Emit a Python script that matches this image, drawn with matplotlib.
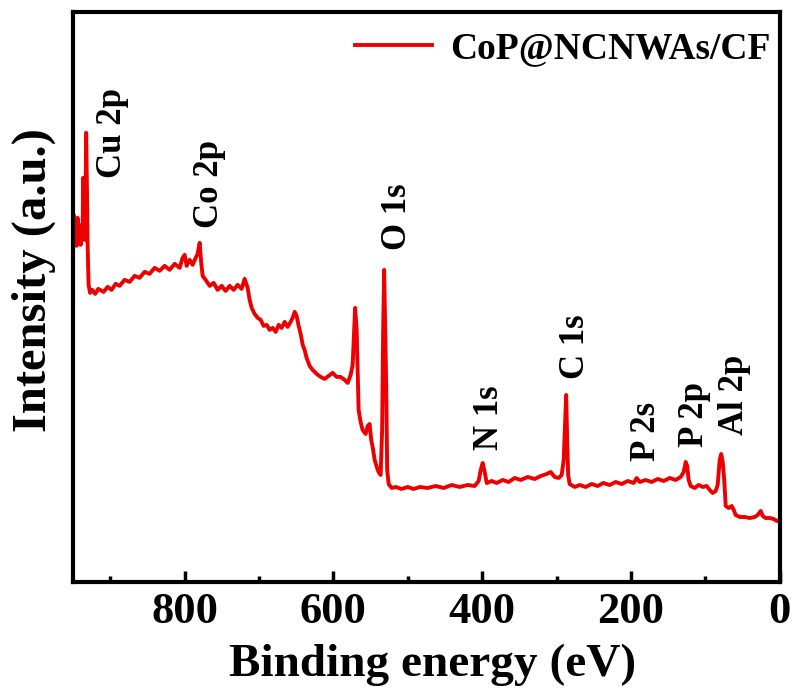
import numpy as np
import matplotlib
matplotlib.use('Agg')
import matplotlib.pyplot as plt
from matplotlib.ticker import MultipleLocator

# Espectro XPS (survey)
energia = [950.0, 949.2, 947.9, 946.6, 945.2, 943.9, 942.5, 941.2, 939.8, 938.5, 937.1,
           936.5, 935.1, 933.8, 932.4, 931.1, 930.4, 929.1, 927.1, 924.2, 920.2, 916.1,
           908.9, 903.5, 898.2, 892.8, 887.4, 880.7, 874.0, 867.2, 860.5, 853.8, 847.1,
           840.3, 833.6, 826.9, 820.2, 813.4, 806.7, 802.7, 800.0, 797.3, 793.3, 789.2,
           785.2, 782.5, 779.8, 777.8, 775.8, 771.8, 766.4, 761.0, 755.6, 750.3, 744.9,
           739.5, 734.1, 728.7, 723.4, 719.3, 715.3, 712.6, 709.9, 705.9, 701.8, 697.8,
           693.8, 689.7, 685.7, 681.7, 677.6, 673.6, 669.6, 665.5, 661.5, 657.5, 654.8,
           652.1, 649.4, 646.7, 644.0, 641.3, 638.7, 636.0, 632.0, 627.9, 622.5, 617.1,
           611.8, 606.4, 601.0, 595.6, 590.3, 584.9, 580.8, 576.8, 574.1, 572.1, 570.8,
           568.7, 567.4, 566.1, 563.4, 560.7, 556.6, 553.9, 551.3, 549.2, 547.2, 544.5,
           541.8, 539.2, 536.5, 534.5, 533.1, 531.8, 530.4, 529.1, 527.7, 525.7, 521.7,
           516.3, 508.2, 500.2, 492.1, 484.0, 473.3, 462.5, 451.8, 441.0, 430.3, 419.5,
           410.1, 404.7, 402.0, 399.3, 396.6, 393.9, 387.2, 380.5, 372.4, 364.4, 356.3,
           348.2, 338.8, 329.4, 321.3, 313.3, 307.9, 302.5, 297.1, 293.1, 290.4, 288.4,
           287.1, 285.7, 284.4, 282.4, 275.6, 268.9, 260.8, 252.8, 244.7, 237.1, 228.6,
           220.5, 212.4, 204.4, 196.3, 192.3, 188.2, 180.2, 172.1, 164.0, 156.0, 147.9,
           139.8, 133.1, 129.1, 126.4, 124.4, 122.4, 119.7, 114.3, 108.9, 103.5, 98.2,
           94.1, 90.1, 86.1, 83.4, 80.7, 78.7, 76.6, 74.6, 72.6, 68.6, 64.5, 61.8, 59.2,
           53.8, 47.1, 40.3, 33.6, 29.6, 25.5, 22.8, 19.0, 13.4, 8.1, 4.0, 1.3]
intensidad = [352, 367, 342, 360, 336, 364, 344, 354, 337, 357, 342,
              404, 347, 342, 449, 382, 337, 297, 289, 292, 288, 293,
              290, 295, 292, 298, 296, 302, 300, 306, 304, 310, 308,
              314, 311, 316, 312, 318, 314, 324, 327, 316, 322, 317,
              324, 328, 339, 320, 306, 302, 296, 299, 292, 296, 291,
              296, 292, 297, 293, 303, 294, 282, 274, 268, 264, 262,
              256, 257, 252, 254, 250, 257, 254, 260, 255, 260, 264,
              270, 266, 256, 248, 237, 232, 224, 216, 212, 208, 205,
              203, 206, 209, 205, 205, 202, 199, 207, 217, 252, 274,
              252, 212, 172, 160, 152, 148, 156, 158, 142, 135, 122,
              115, 110, 107, 152, 252, 312, 252, 202, 112, 98, 94,
              95, 93, 95, 93, 95, 94, 96, 94, 97, 95, 97,
              96, 101, 112, 119, 110, 99, 101, 99, 102, 100, 104,
              102, 105, 103, 106, 108, 110, 105, 104, 107, 122, 162,
              187, 142, 107, 98, 95, 97, 95, 98, 96, 99, 97,
              100, 98, 101, 99, 104, 100, 102, 100, 103, 101, 104,
              102, 105, 110, 120, 116, 102, 96, 94, 97, 95, 96,
              92, 89, 91, 97, 122, 128, 120, 102, 76, 74, 76, 72, 67,
              65, 65, 64, 65, 67, 71, 66, 64, 64, 63, 61, 62]

# Etiquetas de los picos
picos = ['Cu 2p', 'Co 2p', 'O 1s', 'N 1s', 'C 1s', 'P 2s', 'P 2p', 'Al 2p']
picos_x = [896.8, 766.4, 513.6, 389.9, 274.3, 178.8, 114.3, 60.5]
picos_y = [449, 398, 365, 164, 235, 151, 167, 187]

plt.rcParams['font.family'] = ['Liberation Serif', 'DejaVu Serif']
plt.rcParams['font.weight'] = 'bold'

fig = plt.figure(figsize=(7.94, 6.88), dpi=100)
ax = fig.add_axes([0.092, 0.154, 0.890, 0.829])

ax.plot(energia, intensidad, color='#ee0000', lw=2.8, label='CoP@NCNWAs/CF')

for nombre, px, py in zip(picos, picos_x, picos_y):
    ax.text(px, py, nombre, rotation=90, ha='center', va='center',
            fontsize=25, fontweight='bold')

ax.set_xlim(950, 0)
ax.set_ylim(0, 570)
ax.xaxis.set_major_locator(MultipleLocator(200))
ax.xaxis.set_minor_locator(MultipleLocator(100))
ax.set_yticks([])
ax.tick_params(axis='x', which='major', direction='in', length=8, width=2.5,
               labelsize=32, pad=7)
ax.tick_params(axis='x', which='minor', direction='in', length=4, width=2.5)
for lbl in ax.get_xticklabels():
    lbl.set_fontweight('bold')
for s in ax.spines.values():
    s.set_linewidth(3)

ax.set_xlabel('Binding energy (eV)', fontsize=34, fontweight='bold')
ax.xaxis.set_label_coords(0.509, -0.108)
ax.set_ylabel('Intensity (a.u.)', fontsize=35, fontweight='bold')
ax.yaxis.set_label_coords(-0.024, 0.53)

ax.legend(loc='upper right', frameon=False, handlelength=2.05,
          handletextpad=0.48, borderaxespad=0.0, borderpad=0.3,
          bbox_to_anchor=(1.003, 0.985),
          prop={'weight': 'bold', 'size': 27})

plt.savefig('out.png', dpi=100)
